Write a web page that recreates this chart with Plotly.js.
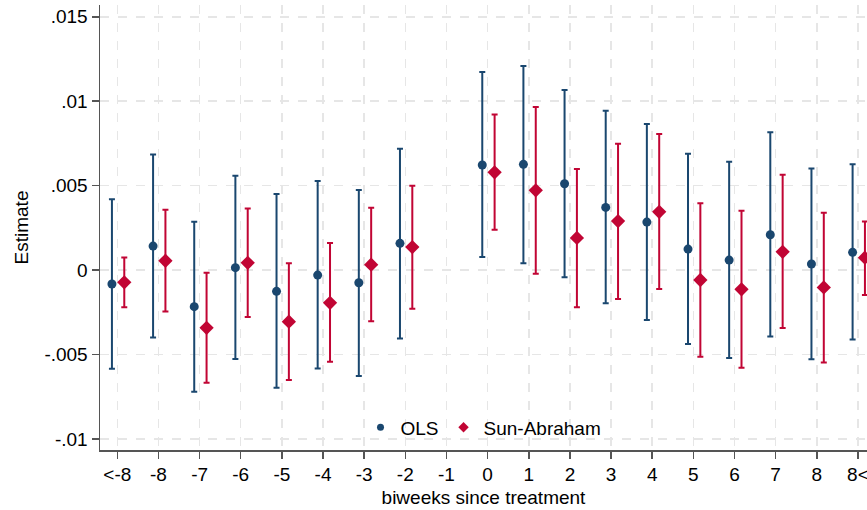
<!DOCTYPE html>
<html>
<head>
<meta charset="utf-8">
<script src="https://cdn.plot.ly/plotly-3.0.1.min.js"></script>
<style>html,body{margin:0;padding:0;background:#fff;}#chart{width:867px;height:510px;}</style>
</head>
<body>
<div id="chart"></div>
<script>
// Categories (biweeks since treatment)
var categories = ["<-8","-8","-7","-6","-5","-4","-3","-2","-1","0","1","2","3","4","5","6","7","8","8<"];

// OLS estimates and 95% CI
var olsEst   = [-0.00083, 0.00142, -0.00217, 0.00014, -0.00126, -0.00030, -0.00075, 0.00158, null, 0.00622, 0.00626, 0.00511, 0.00371, 0.00284, 0.00124, 0.00059, 0.00209, 0.00036, 0.00105];
var olsHigh  = [ 0.00420, 0.00685,  0.00286, 0.00559,  0.00450,  0.00527,  0.00474, 0.00719, null, 0.01173, 0.01209, 0.01066, 0.00944, 0.00865, 0.00689, 0.00642, 0.00816, 0.00602, 0.00626];
var olsLow   = [-0.00585,-0.00400, -0.00721,-0.00527, -0.00697, -0.00583, -0.00628,-0.00405, null, 0.00077, 0.00040,-0.00043,-0.00197,-0.00296,-0.00438,-0.00521,-0.00393,-0.00529,-0.00411];

// Sun-Abraham estimates and 95% CI
var saEst    = [-0.00073, 0.00055, -0.00342, 0.00043, -0.00306, -0.00194, 0.00032, 0.00136, null, 0.00579, 0.00472, 0.00190, 0.00290, 0.00345,-0.00059,-0.00114, 0.00108,-0.00103, 0.00073];
var saHigh   = [ 0.00075, 0.00357, -0.00016, 0.00365,  0.00040,  0.00160,  0.00369, 0.00500, null, 0.00922, 0.00966, 0.00598, 0.00748, 0.00806, 0.00395, 0.00351, 0.00565, 0.00340, 0.00288];
var saLow    = [-0.00220,-0.00245, -0.00668,-0.00278, -0.00652, -0.00543, -0.00304,-0.00229, null, 0.00239,-0.00022,-0.00221,-0.00172,-0.00113,-0.00514,-0.00579,-0.00344,-0.00547,-0.00148];

var yTickVals = [-0.01, -0.005, 0, 0.005, 0.01, 0.015];
var yTickText = ["-.01", "-.005", "0", ".005", ".01", ".015"];

var olsColor = "#1a476f", saColor = "#c10534";
var idx = categories.map(function(_, i){ return i; });
function diffUp(e, h){ return e.map(function(v,i){ return v===null?null:h[i]-v; }); }
function diffDn(e, l){ return e.map(function(v,i){ return v===null?null:v-l[i]; }); }

var traces = [
  {
    type: "scatter", mode: "markers", showlegend: false,
    x: idx.map(function(i){ return i - 0.13; }), y: olsEst,
    marker: {symbol: "circle", size: 9, color: olsColor},
    error_y: {type: "data", symmetric: false, array: diffUp(olsEst, olsHigh), arrayminus: diffDn(olsEst, olsLow),
              color: olsColor, thickness: 2, width: 3},
    cliponaxis: true
  },
  {
    type: "scatter", mode: "markers", showlegend: false,
    x: idx.map(function(i){ return i + 0.17; }), y: saEst,
    marker: {symbol: "diamond", size: 11, color: saColor},
    error_y: {type: "data", symmetric: false, array: diffUp(saEst, saHigh), arrayminus: diffDn(saEst, saLow),
              color: saColor, thickness: 2, width: 3},
    cliponaxis: true
  },
  {type: "scatter", mode: "markers", name: "OLS", x: [null], y: [null],
   marker: {symbol: "circle", size: 7, color: olsColor}},
  {type: "scatter", mode: "markers", name: "Sun-Abraham", x: [null], y: [null],
   marker: {symbol: "diamond", size: 8, color: saColor}}
];

var fontFam = "Liberation Sans, Arial, sans-serif";
var layout = {
  width: 867, height: 510,
  margin: {l: 100, r: 0, t: 5, b: 60},
  paper_bgcolor: "#ffffff", plot_bgcolor: "#ffffff",
  font: {family: fontFam, size: 19, color: "#000"},
  showlegend: true,
  legend: {orientation: "h", x: 0.5, xanchor: "center", y: 0.008, yanchor: "bottom",
           bgcolor: "rgba(0,0,0,0)", font: {size: 19}, itemclick: false},
  xaxis: {
    range: [-0.42, 18.22],
    tickmode: "array", tickvals: idx, ticktext: categories,
    ticklabeloverflow: "allow",
    showgrid: true, gridcolor: "#e6e6e6", griddash: "dash", gridwidth: 1.5,
    zeroline: false,
    showline: true, linecolor: "#555", linewidth: 1.5,
    ticks: "outside", ticklen: 7, tickcolor: "#555", tickwidth: 1.5,
    tickfont: {size: 19},
    title: {text: "biweeks since treatment", font: {size: 19}, standoff: 6}
  },
  yaxis: {
    range: [-0.01066, 0.0157],
    tickmode: "array", tickvals: yTickVals, ticktext: yTickText,
    showgrid: true, gridcolor: "#e6e6e6", griddash: "dash", gridwidth: 1.5,
    zeroline: false,
    showline: true, linecolor: "#555", linewidth: 1.5,
    ticks: "outside", ticklen: 7, tickcolor: "#555", tickwidth: 1.5,
    tickfont: {size: 19},
    title: {text: "Estimate", font: {size: 19}, standoff: 10}
  },
  shapes: [
    {type: "line", xref: "paper", x0: 0, x1: 1, yref: "y", y0: 0, y1: 0,
     line: {color: "#8c8c8c", width: 1.5, dash: "dash"}, layer: "below"}
  ]
};

Plotly.newPlot("chart", traces, layout, {displayModeBar: false, staticPlot: true});
</script>
</body>
</html>
